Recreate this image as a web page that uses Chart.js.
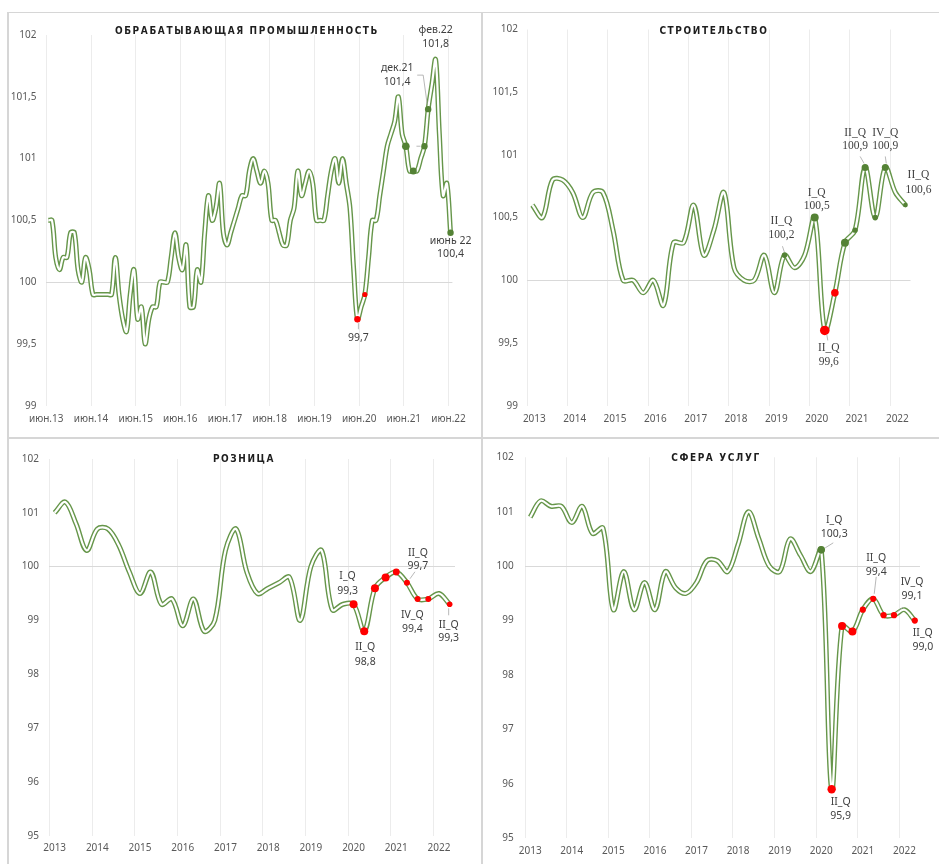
<!DOCTYPE html>
<html>
<head>
<meta charset="utf-8">
<script src="https://cdn.jsdelivr.net/npm/chart.js@4.4.1/dist/chart.umd.min.js"></script>
<style>
    body { margin: 0; background: #fff; width: 939px; height: 864px; position: relative; overflow: hidden; }
    .panel { position: absolute; }
    .ttl { position: absolute; transform: translate(-50%, -50%); font: bold 10px 'DejaVu Sans Condensed', 'Liberation Sans Narrow', 'Roboto', sans-serif; font-stretch: condensed; letter-spacing: 1.6px; color: #1e1e1e; white-space: nowrap; line-height: 1; }
    .ln { position: absolute; background: #d6d6d6; }
</style>
</head>
<body>
<div class="ln" style="left:7px;top:12px;width:932px;height:1px"></div>
<div class="ln" style="left:7px;top:12px;width:2px;height:852px"></div>
<div class="ln" style="left:481px;top:12px;width:2px;height:852px"></div>
<div class="ln" style="left:7px;top:437px;width:932px;height:2px"></div>

<canvas id="mfg" class="panel" width="473" height="424" style="left:9px;top:13px"></canvas>
<canvas id="con" class="panel" width="456" height="424" style="left:483px;top:13px"></canvas>
<canvas id="ret" class="panel" width="472" height="425" style="left:9px;top:439px"></canvas>
<canvas id="srv" class="panel" width="456" height="425" style="left:483px;top:439px"></canvas>

<div class="ttl" style="left:247px;top:31px">ОБРАБАТЫВАЮЩАЯ  ПРОМЫШЛЕННОСТЬ</div>
<div class="ttl" style="left:714px;top:31px">СТРОИТЕЛЬСТВО</div>
<div class="ttl" style="left:244px;top:459px">РОЗНИЦА</div>
<div class="ttl" style="left:716px;top:458px">СФЕРА УСЛУГ</div>

<script>
// --- categories ---
const monthNames = ['янв', 'фев', 'мар', 'апр', 'май', 'июн', 'июл', 'авг', 'сен', 'окт', 'ноя', 'дек'];
const mfgMonths = [];
for (let k = 0; k < 109; k++) {
    mfgMonths.push(monthNames[(5 + k) % 12] + '.' + (13 + Math.floor((5 + k) / 12)));
}
const yearTicks = ['2013', '2014', '2015', '2016', '2017', '2018', '2019', '2020', '2021', '2022'];
const quarterNames = ['I', 'II', 'III', 'IV'];
const quarters = [];
for (let k = 0; k < 38; k++) quarters.push(yearTicks[Math.floor(k / 4)] + ' ' + quarterNames[k % 4]);

// --- series (индексы, мес/мес и кв/кв) ---
const mfgValues = [
    100.5, 100.5, 100.2, 100.1, 100.2, 100.2, 100.4, 100.4, 100.1, 100.0, 100.2, 100.1,
    99.9, 99.9, 99.9, 99.9, 99.9, 99.9, 100.2, 99.9, 99.7, 99.6, 99.9, 100.1,
    99.7, 99.8, 99.5, 99.7, 99.8, 99.8, 100.0, 100.0, 100.0, 100.2, 100.4, 100.2,
    100.1, 100.3, 99.8, 99.8, 100.1, 100.0, 100.4, 100.7, 100.5, 100.6, 100.8, 100.4,
    100.3, 100.4, 100.5, 100.6, 100.7, 100.7, 100.9, 101.0, 100.9, 100.8, 100.9, 100.8,
    100.5, 100.5, 100.4, 100.3, 100.3, 100.5, 100.6, 100.9, 100.7, 100.8, 100.9, 100.8,
    100.5, 100.5, 100.5, 100.7, 100.9, 101.0, 100.8, 101.0, 100.8, 100.6, 100.1, 99.7,
    99.8, 99.9, 100.2, 100.5, 100.5, 100.7, 100.9, 101.1, 101.2, 101.3, 101.5, 101.2,
    101.1, 100.9, 100.9, 100.9, 101.0, 101.1, 101.4, 101.6, 101.8, 101.2, 100.7, 100.8,
    100.4
];
const conValues = [
    100.6, 100.5, 100.8, 100.8, 100.7, 100.5, 100.7, 100.7, 100.4, 100.0,
    100.0, 99.9, 100.0, 99.8, 100.3, 100.3, 100.6, 100.2, 100.4, 100.7,
    100.1, 100.0, 100.0, 100.2, 99.9, 100.2, 100.1, 100.2, 100.5, 99.6,
    99.9, 100.3, 100.4, 100.9, 100.5, 100.9, 100.7, 100.6
];
const retValues = [
    101.0, 101.2, 100.8, 100.3, 100.7, 100.7, 100.4, 99.9, 99.5, 99.9,
    99.3, 99.4, 98.9, 99.4, 98.8, 99.0, 100.3, 100.7, 99.9, 99.5,
    99.6, 99.7, 99.8, 99.0, 100.0, 100.3, 99.2, 99.3, 99.3, 98.8,
    99.6, 99.8, 99.9, 99.7, 99.4, 99.4, 99.5, 99.3
];
const srvValues = [
    100.9, 101.2, 101.1, 101.1, 100.8, 101.1, 100.6, 100.7, 99.2, 99.9,
    99.2, 99.7, 99.2, 99.9, 99.6, 99.5, 99.7, 100.1, 100.1, 99.9,
    100.4, 101.0, 100.5, 100.0, 99.9, 100.5, 100.2, 99.9, 100.3, 95.9,
    98.9, 98.8, 99.2, 99.4, 99.1, 99.1, 99.2, 99.0
];

// --- выделенные точки: [индекс, цвет, радиус] ---
const G = '#548235', R = '#ff0000';
const mfgMarks = [[83, R, 3.2], [85, R, 2.6], [96, G, 3.8], [98, G, 3.5], [101, G, 3.2], [102, G, 3.2], [108, G, 3.2]];
const conMarks = [[25, G, 2.7], [28, G, 4], [29, R, 4.8], [30, R, 3.8], [31, G, 4], [32, G, 2.7], [33, G, 3.5], [34, G, 2.8], [35, G, 3.5], [37, G, 2.4]];
const retMarks = [[28, R, 4], [29, R, 4], [30, R, 4], [31, R, 4], [32, R, 3.4], [33, R, 3], [34, R, 3], [35, R, 3], [37, R, 2.8]];
const srvMarks = [[28, G, 3.8], [29, R, 4.2], [30, R, 4], [31, R, 4], [32, R, 3.1], [33, R, 3.1], [34, R, 3.1], [35, R, 3.1], [37, R, 3.1]];

// --- подписи ---
const mfgNotes = [
    { i: 104, text: ['фев.22', '101,8'], dx: 0, dy: [-30, -16] },
    { i: 102, text: ['дек.21', '101,4'], dx: -31, dy: [-41, -27], leader: [[-11, -34], [-5, -34], [-1, -5]] },
    { i: 101, text: [], dx: 0, dy: [], leader: [[-8, 0], [-4, 0]] },
    { i: 108, text: ['июнь 22', '100,4'], dx: 0, dy: [8, 21] },
    { i: 83, text: ['99,7'], dx: 1, dy: [19], leader: [[1, 4], [1, 10]] }
];
const conNotes = [
    { i: 25, text: ['II_Q', '100,2'], dx: -3, dy: [-34, -20], leader: [[-2, -9], [0, -3]] },
    { i: 28, text: ['I_Q', '100,5'], dx: 2, dy: [-25, -12] },
    { i: 29, text: ['II_Q', '99,6'], dx: 4, dy: [18, 32], leader: [[2, 4], [3, 10]] },
    { i: 33, text: ['II_Q', '100,9'], dx: -10, dy: [-34, -21], leader: [[-5, -11], [-1, -4]] },
    { i: 35, text: ['IV_Q', '100,9'], dx: 0, dy: [-34, -21], leader: [[0, -11], [1, -4]] },
    { i: 37, text: ['II_Q', '100,6'], dx: 13, dy: [-30, -15] }
];
const retNotes = [
    { i: 28, text: ['I_Q', '99,3'], dx: -6, dy: [-28, -13] },
    { i: 29, text: ['II_Q', '98,8'], dx: 1, dy: [16, 31] },
    { i: 33, text: ['II_Q', '99,7'], dx: 11, dy: [-30, -17], leader: [[8, -11], [3, -4]] },
    { i: 35, text: ['IV_Q', '99,4'], dx: -16, dy: [16, 30] },
    { i: 37, text: ['II_Q', '99,3'], dx: -1, dy: [21, 34], leader: [[-1, 4], [-1, 11]] }
];
const srvNotes = [
    { i: 28, text: ['I_Q', '100,3'], dx: 13, dy: [-30, -16], leader: [[12, -7], [4, -2]] },
    { i: 29, text: ['II_Q', '95,9'], dx: 9, dy: [13, 27] },
    { i: 33, text: ['II_Q', '99,4'], dx: 3, dy: [-41, -27], leader: [[3, -22], [1, -5]] },
    { i: 35, text: ['IV_Q', '99,1'], dx: 18, dy: [-33, -19], leader: [[9, -8], [3, -3]] },
    { i: 37, text: ['II_Q', '99,0'], dx: 8, dy: [12, 26] }
];

const notesPlugin = {
    id: 'notes',
    afterDatasetsDraw(chart, args, opts) {
        const { ctx, scales: { x, y } } = chart;
        const vals = chart.data.datasets[0].data;
        ctx.save();
        (opts.items || []).forEach(n => {
            const px = x.getPixelForValue(n.i);
            const py = y.getPixelForValue(vals[n.i]);
            if (n.leader) {
                ctx.strokeStyle = '#a6a6a6';
                ctx.lineWidth = 0.8;
                ctx.beginPath();
                n.leader.forEach((p, k) => k ? ctx.lineTo(px + p[0], py + p[1]) : ctx.moveTo(px + p[0], py + p[1]));
                ctx.stroke();
            }
            ctx.fillStyle = '#404040';
            ctx.font = opts.font;
            ctx.textAlign = 'center';
            ctx.textBaseline = 'middle';
            n.text.forEach((t, k) => ctx.fillText(t, px + n.dx, py + n.dy[k]));
        });
        ctx.restore();
    }
};

function makeChart(id, p) {
    const markIdx = {};
    p.marks.forEach(m => markIdx[m[0]] = m);
    const markData = p.values.map((v, i) => markIdx[i] ? v : null);
    const comma = v => String(v).replace('.', ',');

    return new Chart(document.getElementById(id), {
        type: 'line',
        data: {
            labels: p.labels,
            datasets: [
                { data: p.values, borderColor: '#66964a', borderWidth: 5, pointRadius: 0, tension: 0.35, order: 3 },
                { data: p.values, borderColor: '#ffffff', borderWidth: 2.2, pointRadius: 0, tension: 0.35, order: 2 },
                {
                    data: markData, showLine: false, order: 1,
                    pointRadius: c => markIdx[c.dataIndex] ? markIdx[c.dataIndex][2] : 0,
                    pointBackgroundColor: c => markIdx[c.dataIndex] ? markIdx[c.dataIndex][1] : 'transparent',
                    pointBorderWidth: 0
                }
            ]
        },
        options: {
            responsive: false,
            animation: false,
            events: [],
            layout: { padding: p.pad },
            plugins: { legend: { display: false }, tooltip: { enabled: false }, notes: { items: p.notes, font: p.noteFont } },
            scales: {
                x: {
                    offset: true,
                    border: { display: false },
                    grid: {
                        offset: true, drawTicks: false, lineWidth: 1,
                        color: c => (c.index % p.every === 0 && c.index < p.labels.length) ? '#ececec' : 'rgba(0,0,0,0)'
                    },
                    ticks: {
                        autoSkip: false, maxRotation: 0, minRotation: 0, padding: p.xPad, labelOffset: p.labelOffset || 0,
                        color: '#595959', font: { family: 'Noto Sans', size: 10 },
                        callback: (v, i) => i % p.every === 0 ? p.tickText(i) : ''
                    },
                    afterFit: a => { a.height = p.xH; }
                },
                y: {
                    min: p.yMin, max: p.yMax,
                    border: { display: false },
                    grid: { drawTicks: false, color: c => c.tick && c.tick.value === 100 ? '#d9d9d9' : 'rgba(0,0,0,0)' },
                    ticks: { stepSize: p.yStep, padding: p.yPad, color: '#595959', font: { family: 'Noto Sans', size: 10 }, callback: comma },
                    afterFit: a => { a.width = p.yW; }
                }
            }
        },
        plugins: [notesPlugin]
    });
}

const sansNote = "10.5px 'Noto Sans', sans-serif";

makeChart('mfg', {
    labels: mfgMonths, values: mfgValues, marks: mfgMarks, notes: mfgNotes, noteFont: sansNote,
    every: 12, tickText: i => mfgMonths[i], labelOffset: -2,
    yMin: 99, yMax: 102, yStep: 0.5,
    pad: { left: 0, right: 29.6, top: 22, bottom: 0 }, yW: 37.4, xH: 31.3, xPad: 7.5, yPad: 10
});
makeChart('con', {
    labels: quarters, values: conValues, marks: conMarks, notes: conNotes, noteFont: "11.5px 'Liberation Serif', serif",
    every: 4, tickText: i => yearTicks[i / 4], labelOffset: 2,
    yMin: 99, yMax: 102, yStep: 0.5,
    pad: { left: 0, right: 28.5, top: 16.5, bottom: 0 }, yW: 44.3, xH: 31.3, xPad: 7.5, yPad: 9.3
});
makeChart('ret', {
    labels: quarters, values: retValues, marks: retMarks, notes: retNotes, noteFont: sansNote,
    every: 4, tickText: i => yearTicks[i / 4],
    yMin: 95, yMax: 102, yStep: 1,
    pad: { left: 0, right: 26, top: 20, bottom: 0 }, yW: 40.3, xH: 28.3, xPad: 6.5, yPad: 10.3
});
makeChart('srv', {
    labels: quarters, values: srvValues, marks: srvMarks, notes: srvNotes, noteFont: sansNote,
    every: 4, tickText: i => yearTicks[i / 4],
    yMin: 95, yMax: 102, yStep: 1,
    pad: { left: 0, right: 19, top: 18.3, bottom: 0 }, yW: 42, xH: 25.7, xPad: 7, yPad: 11.3
});
</script>
</body>
</html>
